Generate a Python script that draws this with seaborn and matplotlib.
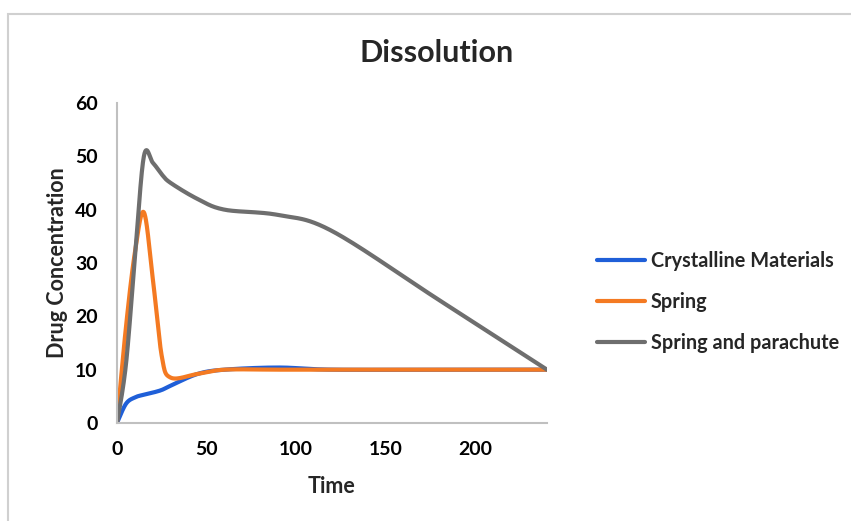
import numpy as np
import pandas as pd
import matplotlib
matplotlib.use("Agg")
import matplotlib.pyplot as plt
from matplotlib.patches import Rectangle
import seaborn as sns

# Dissolution profile: sampling times and measured drug concentration
time = [0, 5, 10, 15, 20, 25, 30, 45, 60, 90, 120, 180, 240]
crystalline = [0, 3.6, 4.8, 5.3, 5.7, 6.2, 7, 9.2, 10, 10.4, 10, 10, 10]
spring = [0, 18, 32, 39.5, 27, 12.5, 8.5, 9.2, 10, 10, 10, 10, 10]
spring_parachute = [0, 11, 31, 50, 48.8, 46.6, 45, 42, 40, 39, 36, 23, 10]

series_names = ["Crystalline Materials", "Spring", "Spring and parachute"]
series_values = [crystalline, spring, spring_parachute]
colors = ["#1f5fd8", "#f47a22", "#6e6e6e"]

x_ticks = [0, 50, 100, 150, 200]
y_ticks = [0, 10, 20, 30, 40, 50, 60]


def smooth_curve(xs, ys, steps=40):
    """Cardinal (Catmull-Rom) Bezier smoothing, like a spreadsheet 'smoothed line'."""
    pts = np.column_stack([xs, ys]).astype(float)
    padded = np.vstack([pts[0], pts, pts[-1]])
    out = [pts[0]]
    s = np.linspace(0, 1, steps)[1:, None]
    for i in range(len(pts) - 1):
        p0, p1, p2, p3 = padded[i], padded[i + 1], padded[i + 2], padded[i + 3]
        c1 = p1 + (p2 - p0) / 6.0
        c2 = p2 - (p3 - p1) / 6.0
        seg = ((1 - s) ** 3) * p1 + 3 * ((1 - s) ** 2) * s * c1 + 3 * (1 - s) * s ** 2 * c2 + s ** 3 * p2
        out.extend(seg)
    out = np.array(out)
    return out[:, 0], out[:, 1]


frames = []
for name, vals in zip(series_names, series_values):
    sx, sy = smooth_curve(time, vals)
    frames.append(pd.DataFrame({"Time": sx, "Drug Concentration": sy, "Series": name}))
df = pd.concat(frames, ignore_index=True)

sns.set_theme(style="white")
plt.rcParams["font.family"] = ["Lato", "DejaVu Sans"]
plt.rcParams["font.weight"] = "bold"

W, H = 851, 521
fig = plt.figure(figsize=(W / 100, H / 100), dpi=100)
fig.patch.set_facecolor("white")

left, right, top, bottom = 117, 547, 103, 423
ax = fig.add_axes([left / W, 1 - bottom / H, (right - left) / W, (bottom - top) / H])

sns.lineplot(data=df, x="Time", y="Drug Concentration", hue="Series",
             hue_order=series_names, palette=colors, linewidth=3.0,
             sort=False, estimator=None, ax=ax, legend=True)

ax.set_xlim(0, 240)
ax.set_ylim(0, 60)
ax.set_xticks(x_ticks)
ax.set_yticks(y_ticks)
ax.tick_params(axis="both", length=0, labelsize=14, colors="black")
ax.tick_params(axis="x", pad=13)
ax.tick_params(axis="y", pad=14)
for lbl in ax.get_xticklabels() + ax.get_yticklabels():
    lbl.set_fontweight("bold")

for side in ["top", "right"]:
    ax.spines[side].set_visible(False)
for side in ["left", "bottom"]:
    ax.spines[side].set_color("#c0c0c0")
    ax.spines[side].set_linewidth(1.5)

ax.set_xlabel("Time", fontsize=15.5, fontweight="bold", labelpad=13)
ax.set_ylabel("Drug Concentration", fontsize=15.5, fontweight="bold", labelpad=5)

fig.text(437 / W, 1 - 53 / H, "Dissolution", ha="center", va="center",
         fontsize=22, fontweight="bold")

handles, labels = ax.get_legend_handles_labels()
leg = ax.legend(handles, labels, loc="center left",
                bbox_to_anchor=(597 / W, 1 - 302 / H), bbox_transform=fig.transFigure,
                frameon=False, fontsize=14.3, handlelength=2.4, handletextpad=0.3,
                labelspacing=1.05, borderaxespad=0, borderpad=0)
for t in leg.get_texts():
    t.set_fontweight("bold")
for ln in leg.get_lines():
    ln.set_linewidth(3.0)

# Chart-area frame
fig.add_artist(Rectangle((8 / W, -0.1), 1.1, 1 - 14 / H + 0.1, transform=fig.transFigure,
                         fill=False, edgecolor="#d0d0d0", linewidth=1.5))

fig.savefig("out.png", dpi=100, facecolor="white")
